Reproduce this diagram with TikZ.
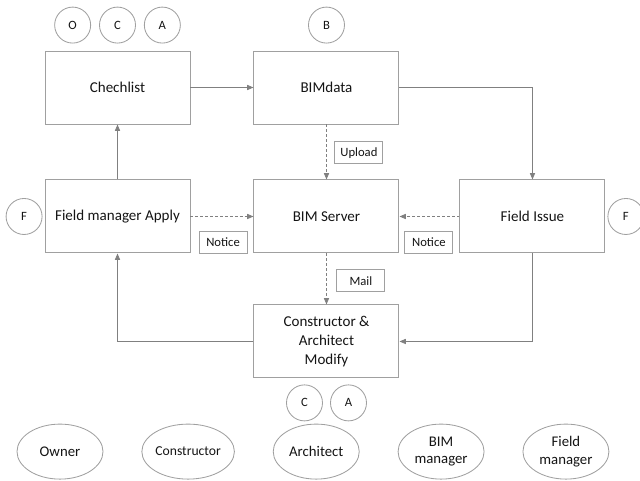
\documentclass[tikz,border=0pt]{standalone}
\usepackage{fontspec}
\setmainfont{Carlito}
\usetikzlibrary{shapes.geometric, arrows.meta, positioning}

\definecolor{linegray}{RGB}{128,128,128}
\definecolor{edgegray}{RGB}{160,160,160}
\definecolor{inkgray}{RGB}{20,20,20}

\begin{document}
\begin{tikzpicture}[
    box/.style={rectangle, draw=edgegray, line width=0.7pt, minimum width=3.625cm, minimum height=1.825cm, align=center, text=inkgray, font=\fontsize{10.7}{13.4}\selectfont},
    tagbox/.style={rectangle, draw=edgegray, line width=0.6pt, minimum width=1.2cm, minimum height=0.55cm, inner sep=1pt, text=inkgray, font=\fontsize{9}{11}\selectfont},
    badge/.style={circle, draw=edgegray, line width=0.6pt, minimum size=0.9cm, inner sep=0pt, text=inkgray, font=\fontsize{9}{11}\selectfont},
    rolebubble/.style={ellipse, draw=edgegray, line width=0.6pt, minimum width=2.15cm, minimum height=1.375cm, inner sep=0pt, align=center, text=inkgray, font=\fontsize{10.5}{12.5}\selectfont},
    arrow/.style={-{Triangle[length=1.6mm, width=1.3mm]}, draw=linegray, line width=0.6pt},
    dasharrow/.style={arrow, dash pattern=on 2pt off 1.5pt}
]
\useasboundingbox (0,0) rectangle (16,12);

% main boxes
\node[box] (checklist) at (2.9375,9.8125) {Chechlist};
\node[box, right=1.575cm of checklist] (bimdata) {BIMdata};
\node[box, below=1.375cm of checklist] (apply) {Field manager Apply};
\node[box, below=1.375cm of bimdata] (server) {BIM Server};
\node[box, right=1.5cm of server] (issue) {Field Issue};
\node[box, below=1.275cm of server] (modify) {Constructor \&\\Architect\\Modify};

% role badges
\node[badge, above=0.175cm of checklist] (c1) {C};
\node[badge, left=0.2cm of c1] (o1) {O};
\node[badge, right=0.2cm of c1] (a1) {A};
\node[badge, above=0.175cm of bimdata] (b1) {B};
\node[badge, left=0.05cm of apply] (f1) {F};
\node[badge, right=0.05cm of issue] (f2) {F};
\node[badge, below=0.15cm of modify, xshift=-0.55cm] (c2) {C};
\node[badge, below=0.15cm of modify, xshift=0.55cm] (a2) {A};

% labels on the dashed links
\node[tagbox, below right=0.425cm and 0.2cm of bimdata.south] (upload) {Upload};
\node[tagbox, above left=0cm and 0.15cm of server.south west] (notice1) {Notice};
\node[tagbox, above right=0cm and 0.125cm of server.south east] (notice2) {Notice};
\node[tagbox, below right=0.4cm and 0.25cm of server.south] (mail) {Mail};

% legend
\node[rolebubble] (owner) at (1.5,0.71) {Owner};
\node[rolebubble, right=0.95cm of owner, font=\fontsize{9.7}{12}\selectfont] (constructor) {Constructor};
\node[rolebubble, right=0.95cm of constructor] (architect) {Architect};
\node[rolebubble, right=0.95cm of architect] (bimmgr) {BIM\\manager};
\node[rolebubble, right=0.95cm of bimmgr] (fieldmgr) {Field\\manager};

\draw[arrow] (checklist) -- (bimdata);
\draw[arrow] (bimdata) -| (issue);
\draw[arrow] (issue) |- (modify);
\draw[arrow] (modify) -| (apply);
\draw[arrow] (apply) -- (checklist);

\draw[dasharrow] (bimdata) -- (server);
\draw[dasharrow] (apply) -- (server);
\draw[dasharrow] (issue) -- (server);
\draw[dasharrow] (server) -- (modify);

\end{tikzpicture}
\end{document}
